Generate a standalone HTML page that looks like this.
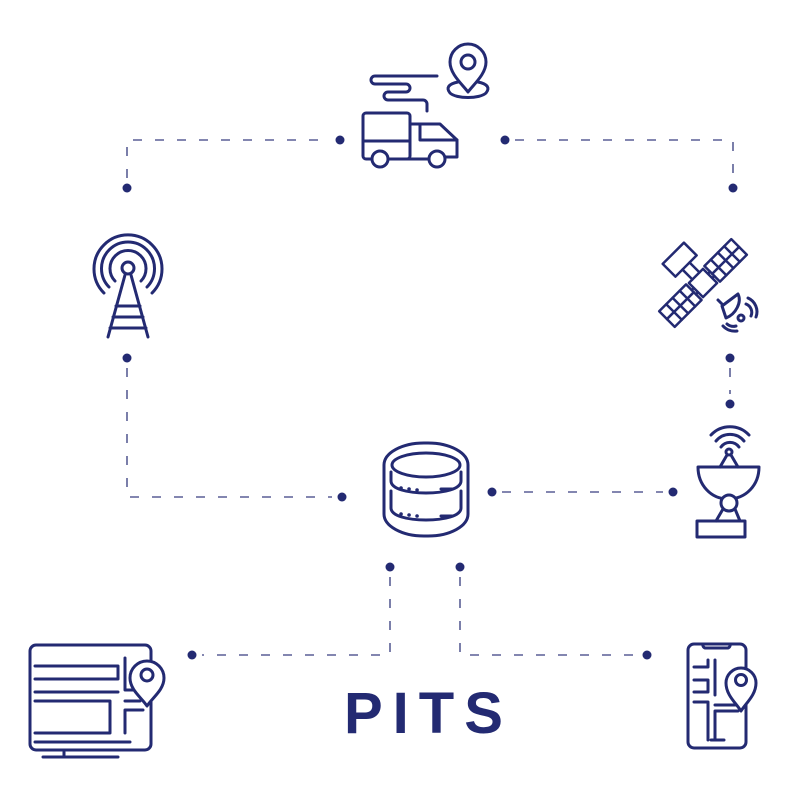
<!DOCTYPE html>
<html><head><meta charset="utf-8"><style>
html,body{margin:0;padding:0;background:#fff;}
svg{display:block;}
</style></head><body>
<svg width="800" height="800" viewBox="0 0 800 800" xmlns="http://www.w3.org/2000/svg">
<g fill="none" stroke="#5a5f95" stroke-width="1.6" stroke-dasharray="9 13">
<path d="M127 178 V140 H330"/>
<path d="M515 140 H733 V178"/>
<path d="M127 368 V497 H332"/>
<path d="M730 368 V394"/>
<path d="M502 492 H663"/>
<path d="M390 577 V655 H202"/>
<path d="M460 577 V655 H637"/>
</g>
<g fill="#232a72">
<circle cx="127" cy="188" r="4.5"/><circle cx="340" cy="140" r="4.5"/>
<circle cx="505" cy="140" r="4.5"/><circle cx="733" cy="188" r="4.5"/>
<circle cx="127" cy="358" r="4.5"/><circle cx="342" cy="497" r="4.5"/>
<circle cx="730" cy="358" r="4.5"/><circle cx="730" cy="404" r="4.5"/>
<circle cx="492" cy="492" r="4.5"/><circle cx="673" cy="492" r="4.5"/>
<circle cx="390" cy="567" r="4.5"/><circle cx="460" cy="567" r="4.5"/>
<circle cx="192" cy="655" r="4.5"/><circle cx="647" cy="655" r="4.5"/>
</g>
<g fill="none" stroke="#232a72" stroke-width="3" stroke-linecap="round" stroke-linejoin="round">
<!-- truck -->
<path d="M437 76 H375 a4 4 0 0 0 0 8 H406 a4 4 0 0 1 0 8 H388 a4 4 0 0 0 0 8 H423 a4 4 0 0 1 4 4 V111"/>
<rect x="363" y="113" width="47" height="46" rx="3"/>
<path d="M410 124 H440 L457 140 V157 H446"/>
<path d="M420 124 V140 H457"/>
<path d="M363 141 H410"/>
<circle cx="380" cy="159" r="8" fill="#fff"/><circle cx="437" cy="159" r="8" fill="#fff"/>
<path d="M388 159 H429"/>
<path d="M468 92 C462 84 450 74 450 62 a18 18 0 0 1 36 0 C486 74 474 84 468 92 Z"/>
<circle cx="468" cy="62" r="7"/>
<path d="M458 82 C448 84 446 88 450 93 C456 99 480 99 486 93 C490 88 488 84 478 82"/>
<!-- tower -->
<circle cx="128" cy="268" r="6"/>
<path d="M115 281 a18 18 0 1 1 26 0"/>
<path d="M109 287 a26.5 26.5 0 1 1 38 0"/>
<path d="M104 293 a34 34 0 1 1 48 0"/>
<path d="M125 275 L108 337 M131 275 L148 337 M116 306 H140 M113 317 H143 M110 328 H146"/>
<!-- satellite -->
<g transform="rotate(-45 703 283)" stroke-width="2.5">
<rect x="652" y="272" width="38" height="22" fill="#fff"/>
<path d="M662 272 V294 M671 272 V294 M681 272 V294 M652 283 H690"/>
<rect x="716" y="272" width="38" height="22" fill="#fff"/>
<path d="M725 272 V294 M735 272 V294 M744 272 V294 M716 283 H754"/>
<path d="M690 280 H693 M690 286 H693 M713 280 H716 M713 286 H716"/>
<rect x="693" y="273" width="20" height="20" fill="#fff"/>
<rect x="688" y="241" width="30" height="18" fill="#fff"/>
<path d="M698 259 V273 M708 259 V273"/>
</g>
<path d="M718 300 L724 306" />
<path d="M722 306 L738 294 C742 302 736 314 726 318 Z" fill="#fff"/>
<circle cx="741" cy="318" r="3"/>
<path d="M746 304 a9 9 0 0 1 5 12 M748 298 a15 15 0 0 1 8 19 M736 326 a10 10 0 0 1 -9 -2 M737 331 a16 16 0 0 1 -14 -5"/>
<!-- dish -->
<path d="M711 435 a26 26 0 0 1 38 0 M716 441 a18 18 0 0 1 28 0 M721 447 a11 11 0 0 1 18 0"/>
<circle cx="729" cy="452" r="3"/>
<path d="M727 455 L720 467 M731 455 L738 467"/>
<path d="M698 467 H759 C759 485 746 499 728 499 C711 499 698 485 698 467 Z"/>
<circle cx="729" cy="503" r="8" fill="#fff"/>
<path d="M723 509 L716 521 M735 509 L740 521"/>
<rect x="697" y="521" width="48" height="16"/>
<!-- database -->
<rect x="384" y="443" width="84" height="93" rx="40" ry="22"/>
<ellipse cx="426" cy="465" rx="34" ry="12"/>
<path d="M391 472 V481 C391 489 408 493 426 493 C444 493 461 489 461 481 V472"/>
<path d="M391 499 V508 C391 516 408 520 426 520 C444 520 461 516 461 508 V499"/>
<path d="M391 491 V499 M461 491 V499"/>
<path d="M441 489 H452 M441 516 H452"/>
<g stroke-width="3.5"><path d="M401 488 h0.1 M409 489 h0.1 M417 490 h0.1 M401 514 h0.1 M409 515 h0.1 M417 516 h0.1"/></g>
<!-- monitor -->
<rect x="30" y="645" width="121" height="105" rx="6"/>
<path d="M64 752 V757 M43 757 H118"/>
<path d="M35 666 H118 V679 H35 M35 692 H118 M35 701 H110 V733 H35 M35 742 H130"/>
<path d="M125 658 V690 H133 M125 701 H140 M125 733 V710 H143"/>
<path d="M147 706 C142 698 130 690 130 678 a17 17 0 0 1 34 0 C164 690 152 698 147 706 Z" fill="#fff"/>
<circle cx="147" cy="675" r="6"/>
<!-- phone -->
<rect x="688" y="644" width="58" height="104" rx="6"/>
<path d="M703 644 a3 3 0 0 0 3 4 H727 a3 3 0 0 0 3 -4"/>
<path d="M694 667 H708 V660 M694 680 H708 V692 H694 M694 702 H708 V740 M715 660 V695 M715 711 V740 M715 705 H737 M715 711 H738 M711 740 H724"/>
<path d="M741 711 C736 703 726 695 726 683 a15 15 0 0 1 30 0 C756 695 746 703 741 711 Z" fill="#fff"/>
<circle cx="741" cy="680" r="5.5"/>
</g>
<text x="344" y="733" font-family="Liberation Sans, sans-serif" font-weight="bold" font-size="58" letter-spacing="10" fill="#232a72">PITS</text>
</svg>
</body></html>
